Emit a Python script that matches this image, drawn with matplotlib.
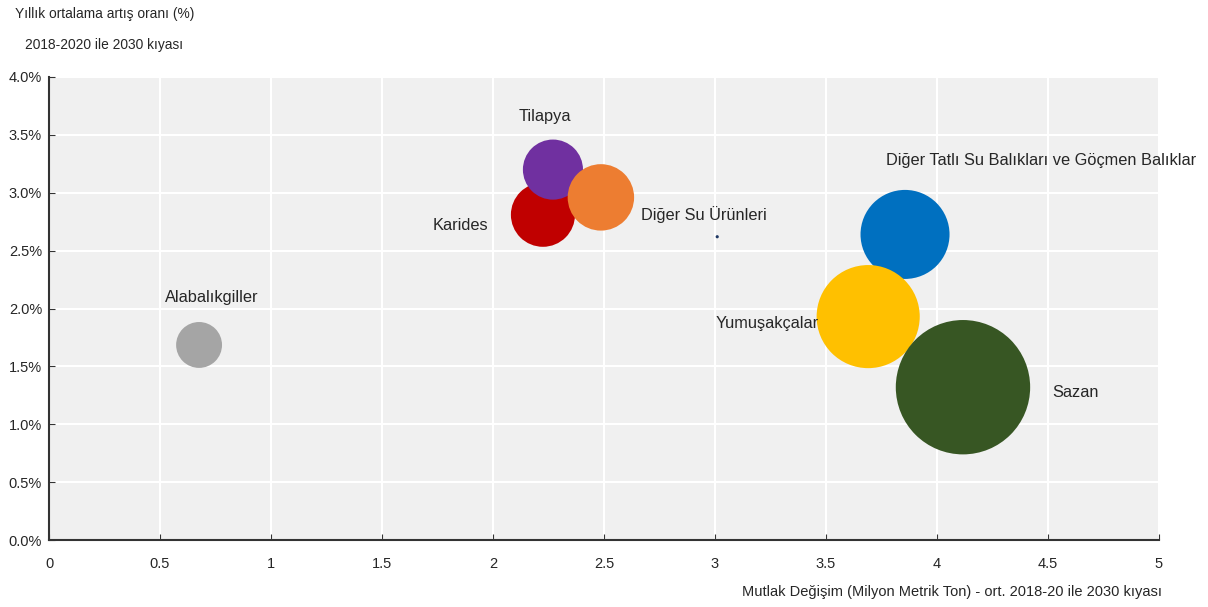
import matplotlib.pyplot as plt

# veri: x = mutlak degisim (milyon ton), y = yillik artis orani (%), hacim = balon buyuklugu
turler = ['Alabalıkgiller', 'Karides', 'Tilapya', 'Diğer Su Ürünleri', '',
          'Diğer Tatlı Su Balıkları ve Göçmen Balıklar', 'Yumuşakçalar', 'Sazan']
degisim = [0.676, 2.225, 2.27, 2.486, 3.01, 3.856, 3.69, 4.117]
artis = [1.685, 2.81, 3.20, 2.96, 2.62, 2.64, 1.93, 1.32]
hacim = [21, 41, 36, 44, 0.1, 79, 106, 180]

renkler = ['#a5a5a5', '#c00000', '#7030a0', '#ed7d31', '#1f3864',
           '#0070c0', '#ffc000', '#375623']

# etiket yerlesimi (piksel ofset, hizalama)
etiket_ofset = [(13, 47, 'center'), (-55, -11, 'right'), (-8, 53, 'center'),
                (40, -17, 'left'), (0, 0, 'left'), (-19, 74, 'left'),
                (-49, -7, 'right'), (89, -5, 'left')]

dar = ['Liberation Sans Narrow', 'Liberation Sans', 'DejaVu Sans']
normal = ['Liberation Sans', 'DejaVu Sans']

fig = plt.figure(figsize=(12.08, 6.07), dpi=100)
W, H = 1208, 607
ax = fig.add_axes([49 / W, 1 - 540 / H, (1159 - 49) / W, (540 - 77) / H])
ax.set_facecolor('#f0f0f0')

for i in range(len(turler)):
    ax.scatter(degisim[i], artis[i], s=hacim[i] * 52, color=renkler[i],
               edgecolors='none', zorder=3 + i)
    if turler[i]:
        dx, dy, ha = etiket_ofset[i]
        ax.annotate(turler[i], (degisim[i], artis[i]), xytext=(dx, dy),
                    textcoords='offset pixels', ha=ha, va='center',
                    fontsize=11.8, family=normal, color='#262626', zorder=20)

ax.set_xlim(0, 5)
ax.set_ylim(0, 4)
ax.set_xticks([0, 0.5, 1, 1.5, 2, 2.5, 3, 3.5, 4, 4.5, 5])
ax.set_xticklabels(['0', '0.5', '1', '1.5', '2', '2.5', '3', '3.5', '4', '4.5', '5'])
ax.set_yticks([0, 0.5, 1, 1.5, 2, 2.5, 3, 3.5, 4])
ax.set_yticklabels(['0.0%', '0.5%', '1.0%', '1.5%', '2.0%', '2.5%', '3.0%', '3.5%', '4.0%'])
ax.grid(True, color='white', linewidth=1.5, zorder=1)
ax.set_axisbelow(True)

for lab in ax.get_xticklabels() + ax.get_yticklabels():
    lab.set_family(dar)
    lab.set_fontsize(10.5)
    lab.set_color('#262626')
ax.tick_params(axis='x', direction='in', length=4, pad=12, color='#333333')
ax.tick_params(axis='y', direction='in', length=4, pad=5, color='#333333')

ax.spines['top'].set_visible(False)
ax.spines['right'].set_visible(False)
ax.spines['left'].set_color('#333333')
ax.spines['bottom'].set_color('#333333')
ax.spines['left'].set_linewidth(1.5)
ax.spines['bottom'].set_linewidth(1.5)

fig.text(15 / W, 1 - 14 / H, 'Yıllık ortalama artış oranı (%)', family=dar,
         fontsize=9.9, color='#262626', va='center', ha='left')
fig.text(25 / W, 1 - 45 / H, '2018-2020 ile 2030 kıyası', family=dar,
         fontsize=9.9, color='#262626', va='center', ha='left')
fig.text(1162 / W, 1 - 592 / H,
         'Mutlak Değişim (Milyon Metrik Ton) - ort. 2018-20 ile 2030 kıyası',
         family=dar, fontsize=10.5, color='#262626', va='center', ha='right')

fig.savefig('out.png', dpi=100)
